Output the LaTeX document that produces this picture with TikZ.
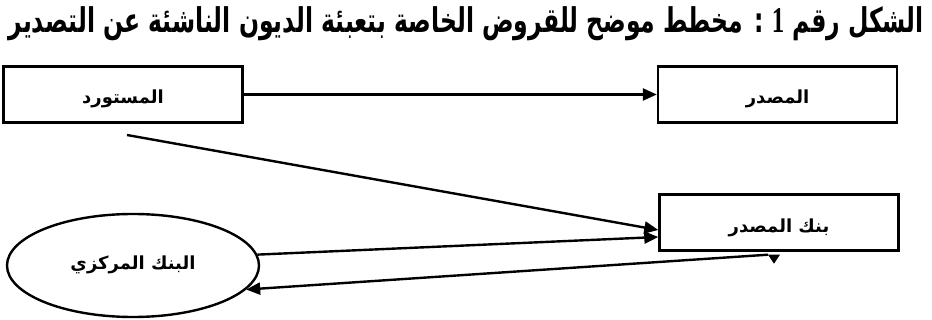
\documentclass[tikz,border=0pt]{standalone}
\usepackage{fontspec}
\usetikzlibrary{arrows.meta,shapes.geometric,calc}
\newfontfamily\arabicfont[Script=Arabic]{DejaVu Sans}
\newfontfamily\numfont{Liberation Serif}
\TeXXeTstate=1
\newcommand{\droptext}[2]{\raisebox{#1}[0pt][0pt]{#2}}

\begin{document}
\begin{tikzpicture}[x=1pt, y=-1pt,
      party/.style={rectangle, draw=black, line width=2.4pt,
                    minimum width=239pt, minimum height=56pt, inner sep=0pt,
                    font=\arabicfont\bfseries\fontsize{18}{20}\selectfont},
      bank/.style={ellipse, draw=black, line width=2.4pt,
                   minimum width=252pt, minimum height=103pt, inner sep=0pt,
                   font=\arabicfont\bfseries\fontsize{18}{20}\selectfont},
      flow/.style={-{Triangle[length=14pt, width=12pt]}, line width=2.4pt},
      heading/.style={font=\arabicfont\bfseries\fontsize{23.5}{26}\selectfont}]
    \useasboundingbox (0,0) rectangle (932,320);
    % ----- title
    \node[heading] (title) at (466,24)
      {\scalebox{1}[1.45]{\beginR الشكل رقم {\numfont\bfseries\fontsize{25}{28}\selectfont 1} : مخطط موضح للقروض الخاصة بتعبئة الديون الناشئة عن التصدير\endR}};
    % ----- the parties
    \node[party] (importer) at (123,94.5) {\droptext{-9pt}{\beginR المستورد\endR}};
    \node[party] (exporter) at (777.5,94.5) {\droptext{-9pt}{\beginR المصدر\endR}};
    \node[party] (exbank) at (779,222.5) {\droptext{-10pt}{\beginR بنك المصدر\endR}};
    \node[bank] (central) at (133,265.5) {\droptext{-4pt}{\beginR البنك المركزي\endR}};
    % ----- flows
    \coordinate (impfoot) at (127,135);
    \draw[flow] (importer.east) -- (exporter.west);
    \draw[flow] (impfoot) -- ([yshift=-7.5pt]exbank.west);
    \draw[flow] (central.5) -- ([yshift=-14.5pt]exbank.west);
    \draw[flow] ([xshift=-11pt, yshift=-3pt]exbank.south) -- (central.-12);
    \fill ([xshift=-11pt, yshift=-3pt]exbank.south) -- ([xshift=1pt, yshift=-3pt]exbank.south)
      -- ([xshift=-5pt, yshift=-12pt]exbank.south) -- cycle;
  \end{tikzpicture}
\end{document}
